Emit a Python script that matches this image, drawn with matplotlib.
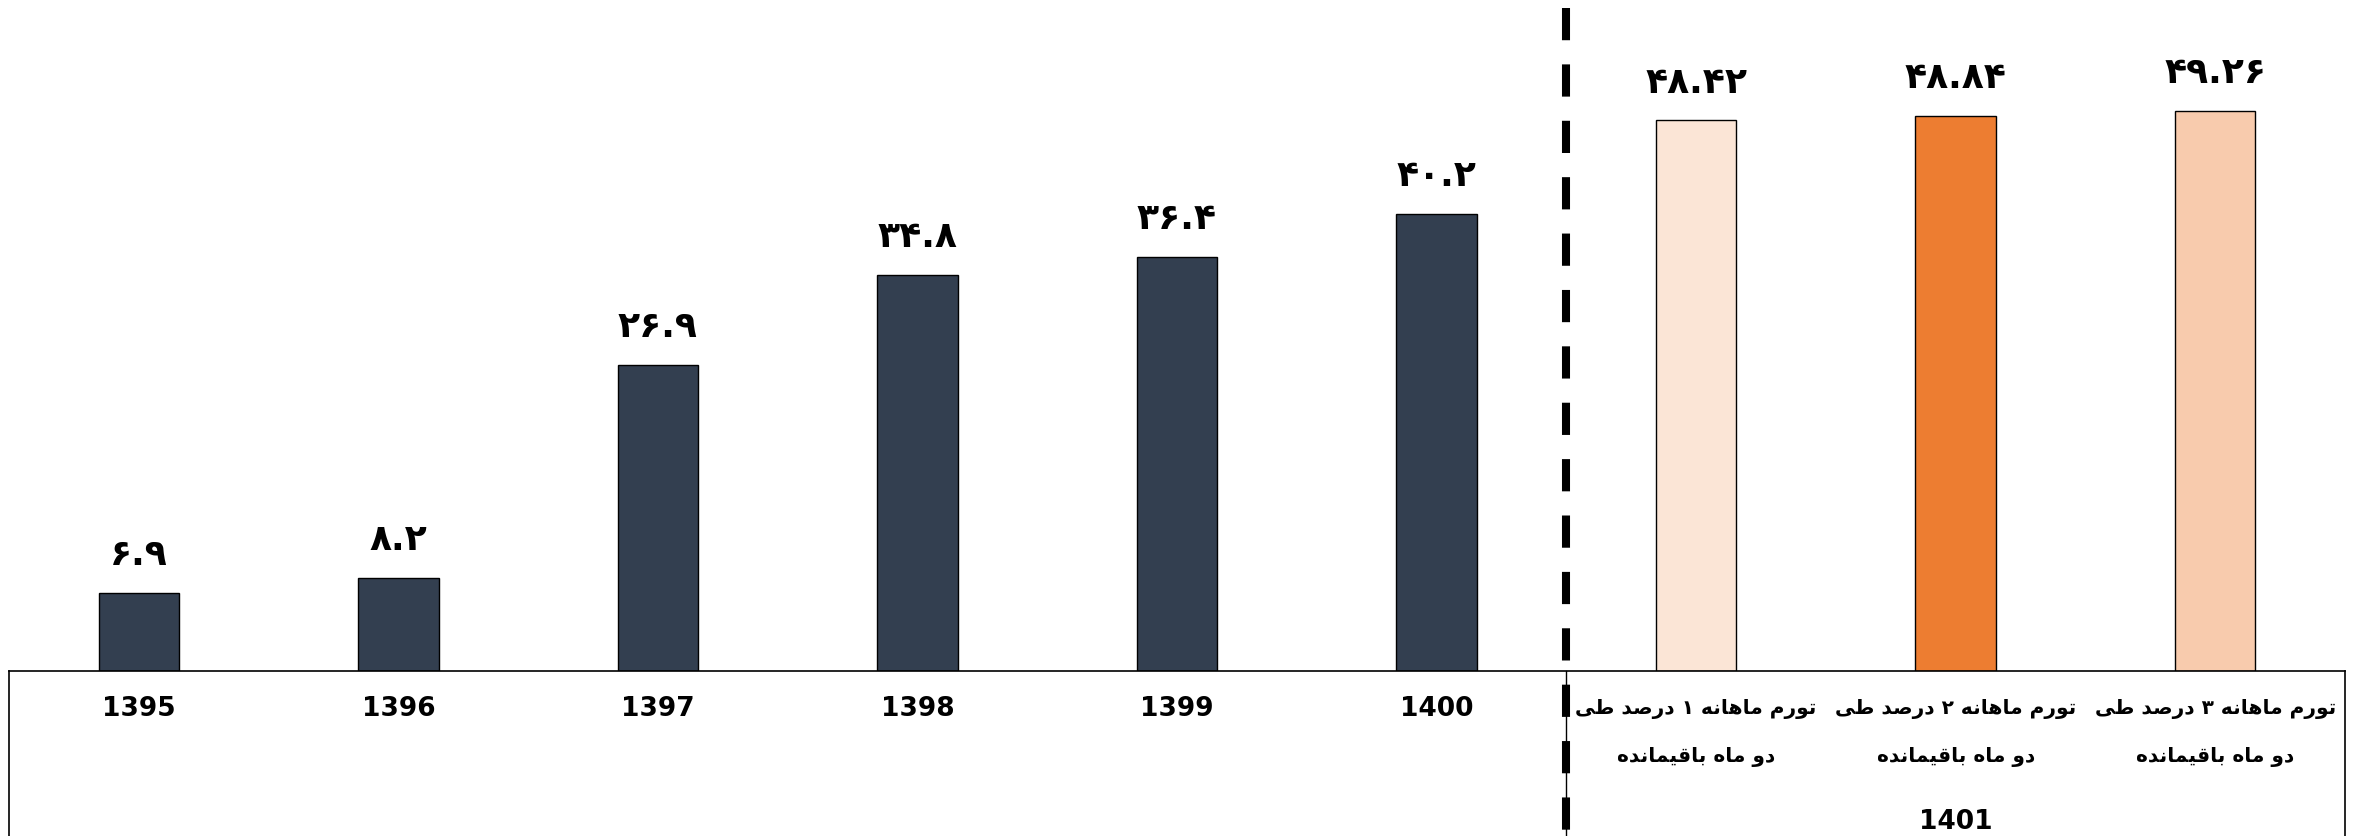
import matplotlib
matplotlib.use("Agg")
import matplotlib.pyplot as plt

# data
categories = ["1395", "1396", "1397", "1398", "1399", "1400",
              "تورم ماهانه ۱ درصد طی\nدو ماه باقیمانده",
              "تورم ماهانه ۲ درصد طی\nدو ماه باقیمانده",
              "تورم ماهانه ۳ درصد طی\nدو ماه باقیمانده"]
values = [6.9, 8.2, 26.9, 34.8, 36.4, 40.2, 48.42, 48.84, 49.26]
bar_colors = ["#333F50"] * 6 + ["#FBE5D6", "#ED7D31", "#F8CBAD"]
group_label = "1401"
group_start = 6

# arabic presentation forms: isolated, final, initial, medial
FORMS = {
    'ا': ('\uFE8D', '\uFE8E', None, None),
    'ب': ('\uFE8F', '\uFE90', '\uFE91', '\uFE92'),
    'ت': ('\uFE95', '\uFE96', '\uFE97', '\uFE98'),
    'د': ('\uFEA9', '\uFEAA', None, None),
    'ر': ('\uFEAD', '\uFEAE', None, None),
    'ص': ('\uFEB9', '\uFEBA', '\uFEBB', '\uFEBC'),
    'ط': ('\uFEC1', '\uFEC2', '\uFEC3', '\uFEC4'),
    'ق': ('\uFED5', '\uFED6', '\uFED7', '\uFED8'),
    'م': ('\uFEE1', '\uFEE2', '\uFEE3', '\uFEE4'),
    'ن': ('\uFEE5', '\uFEE6', '\uFEE7', '\uFEE8'),
    'ه': ('\uFEE9', '\uFEEA', '\uFEEB', '\uFEEC'),
    'و': ('\uFEED', '\uFEEE', None, None),
    'ی': ('\uFEEF', '\uFEF0', '\uFEF3', '\uFEF4'),
}


def shape_line(line):
    out = []
    for i, ch in enumerate(line):
        if ch not in FORMS:
            out.append(ch)
            continue
        prev = line[i - 1] if i > 0 else ''
        nxt = line[i + 1] if i + 1 < len(line) else ''
        joins_prev = prev in FORMS and FORMS[prev][2] is not None
        joins_next = nxt in FORMS and FORMS[ch][2] is not None
        iso, fin, ini, med = FORMS[ch]
        if joins_prev and joins_next:
            out.append(med)
        elif joins_prev:
            out.append(fin)
        elif joins_next:
            out.append(ini)
        else:
            out.append(iso)
    return ''.join(out)[::-1]


def rtl(text):
    return '\n'.join(shape_line(l) for l in text.split('\n'))


def fa_digits(v):
    return str(v).translate(str.maketrans('0123456789', '۰۱۲۳۴۵۶۷۸۹'))


W, H = 2359, 836
fig = plt.figure(figsize=(W / 100, H / 100), dpi=100)
ax = fig.add_axes([9 / W, 165 / H, 2336 / W, 671 / H])

x = list(range(len(values)))
ax.bar(x, values, width=0.31, color=bar_colors, edgecolor="black", linewidth=1.0, zorder=2)
ax.set_xlim(-0.5, len(values) - 0.5)
ax.set_ylim(0, 59.0)

for xi, v in zip(x, values):
    ax.annotate(fa_digits(v), (xi, v), xytext=(0, 20), textcoords="offset points",
                ha="center", va="baseline", fontsize=26, fontweight="bold",
                family="DejaVu Sans", color="black")

for s in ["top", "right", "left"]:
    ax.spines[s].set_visible(False)
ax.spines["bottom"].set_linewidth(1.2)
ax.set_xticks([])
ax.set_yticks([])

tr = ax.get_xaxis_transform()
bottom = -0.3
# category table frame
ax.plot([-0.5, -0.5], [0, bottom], transform=tr, color="black", lw=1.2, clip_on=False)
ax.plot([len(values) - 0.5] * 2, [0, bottom], transform=tr, color="black", lw=1.2, clip_on=False)
ax.plot([group_start - 0.5] * 2, [0, bottom], transform=tr, color="black", lw=1.0, clip_on=False)
# dashed separator
ax.plot([group_start - 0.5] * 2, [1 - 8 / 671, bottom], transform=tr, color="black",
        lw=5.8, linestyle=(0, (4, 3)), clip_on=False, zorder=3)

for xi, lab in zip(x, categories):
    if "\n" in lab:
        l1, l2 = lab.split("\n")
        ax.text(xi, -38 / 671, rtl(l1), transform=tr, ha="center", va="center",
                fontsize=14.5, fontweight="bold", family="DejaVu Sans")
        ax.text(xi, -86 / 671, rtl(l2), transform=tr, ha="center", va="center",
                fontsize=14.5, fontweight="bold", family="DejaVu Sans")
    else:
        ax.text(xi, -38 / 671, lab, transform=tr, ha="center", va="center",
                fontsize=19, fontweight="bold", family="DejaVu Sans")

gx = (group_start + len(values) - 1) / 2
ax.text(gx, -151 / 671, group_label, transform=tr, ha="center", va="center",
        fontsize=19, fontweight="bold", family="DejaVu Sans")

fig.savefig("out.png", dpi=100)
